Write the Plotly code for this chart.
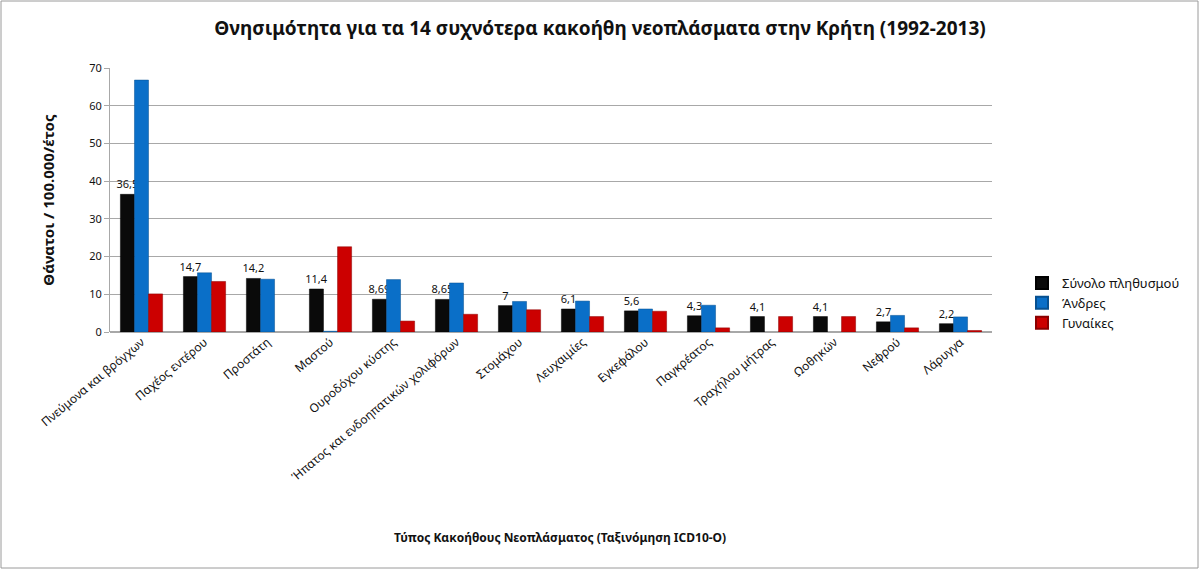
import plotly.graph_objects as go

categories = [
    "Πνεύμονα και βρόγχων", "Παχέος εντέρου", "Προστάτη", "Μαστού",
    "Ουροδόχου κύστης", "Ήπατος και ενδοηπατικών χολιφόρων", "Στομάχου",
    "Λευχαιμίες", "Εγκεφάλου", "Παγκρέατος", "Τραχήλου μήτρας", "Ωοθηκών",
    "Νεφρού", "Λάρυγγα",
]
total = [36.5, 14.7, 14.2, 11.4, 8.69, 8.65, 7, 6.1, 5.6, 4.3, 4.1, 4.1, 2.7, 2.2]
men = [66.8, 15.7, 14.0, 0.2, 13.9, 13.0, 8.1, 8.2, 6.1, 7.1, None, None, 4.4, 4.0]
women = [10.1, 13.4, None, 22.6, 2.9, 4.7, 5.9, 4.1, 5.5, 1.1, 4.1, 4.1, 1.1, 0.4]
total_labels = ["36,5", "14,7", "14,2", "11,4", "8,69", "8,65", "7", "6,1",
                "5,6", "4,3", "4,1", "4,1", "2,7", "2,2"]

FONT = "Noto Sans"

fig = go.Figure()
fig.add_trace(go.Bar(
    name="Σύνολο πληθυσμού", x=categories, y=total,
    marker=dict(color="#0a0a0a", line=dict(color="#000000", width=0.5)),
    text=total_labels, textposition="outside", cliponaxis=False,
    constraintext="none", textangle=0,
    textfont=dict(size=11, color="#111111", family=FONT),
))
fig.add_trace(go.Bar(
    name="Άνδρες", x=categories, y=men,
    marker=dict(color="#0a6fc8", line=dict(color="#075090", width=0.5)),
))
fig.add_trace(go.Bar(
    name="Γυναίκες", x=categories, y=women,
    marker=dict(color="#cc0000", line=dict(color="#8a0000", width=0.5)),
))

W, H = 1200, 570
ml, mr, mt, mb = 110, 208, 68, 238
pw, ph = W - ml - mr, H - mt - mb

fig.update_layout(
    width=W, height=H,
    margin=dict(l=ml, r=mr, t=mt, b=mb),
    paper_bgcolor="white", plot_bgcolor="white",
    font=dict(family=FONT, size=12, color="#111111"),
    barmode="group", bargap=0.33, bargroupgap=0.0,
    title=dict(
        text="<b>Θνησιμότητα για τα 14 συχνότερα κακοήθη νεοπλάσματα στην Κρήτη (1992-2013)</b>",
        x=0.5, xanchor="center", y=1 - 28 / H, yanchor="middle",
        font=dict(size=19, family=FONT, color="#111111"),
    ),
    showlegend=True,
    legend=dict(
        x=(1022 - ml) / pw, xanchor="left", y=(H - mb - 303) / ph, yanchor="middle",
        font=dict(size=13, family=FONT), tracegroupgap=6,
        itemsizing="constant", bgcolor="rgba(0,0,0,0)",
    ),
    xaxis=dict(
        tickangle=-40, tickfont=dict(size=12, family=FONT),
        showline=False, showgrid=False, ticks="",
    ),
    yaxis=dict(
        range=[0, 70], dtick=10, showgrid=True, gridcolor="#a8a8a8", gridwidth=1,
        showline=True, linecolor="#a8a8a8", zeroline=True, zerolinecolor="#a8a8a8",
        tickfont=dict(size=11, family=FONT), ticks="outside", ticklen=5, tickcolor="#a8a8a8",
        title=dict(text="<b>Θάνατοι / 100.000/έτος</b>", font=dict(size=15, family=FONT), standoff=30),
    ),
    annotations=[dict(
        text="<b>Τύπος Κακοήθους Νεοπλάσματος (Ταξινόμηση ICD10-O)</b>",
        xref="paper", yref="paper", x=(560 - ml) / pw, y=(H - mb - 537) / ph,
        xanchor="center", yanchor="middle", showarrow=False,
        font=dict(size=12, family=FONT, color="#111111"),
    )],
    shapes=[dict(
        type="rect", xref="paper", yref="paper",
        x0=(1 - ml) / pw, x1=(W - 2 - ml) / pw,
        y0=(-(mb - 2)) / ph, y1=(H - mb - 1) / ph,
        line=dict(color="#9a9a9a", width=1), fillcolor="rgba(0,0,0,0)", layer="below",
    )],
)

fig.write_html(
    "out.html", config={"displayModeBar": False},
    post_script=(
        "document.documentElement.style.overflow='hidden';"
        "document.body.style.overflow='hidden';"
        "document.body.style.margin='0';"
    ),
)
